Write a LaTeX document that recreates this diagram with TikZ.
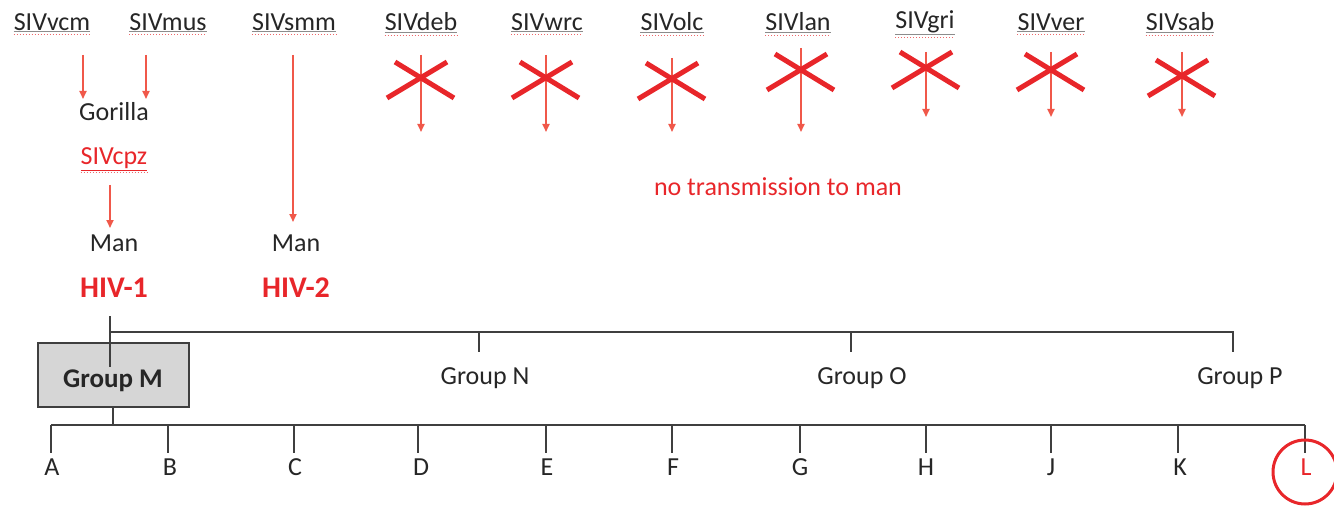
\documentclass[tikz,border=0pt]{standalone}
\usepackage{fontspec}
\setmainfont{Carlito}
\usetikzlibrary{arrows.meta}
\definecolor{xred}{HTML}{E8262A}
\definecolor{ared}{HTML}{F0584A}
\definecolor{tgray}{HTML}{3F3F3F}
\definecolor{boxgray}{HTML}{D6D6D6}
\definecolor{txt}{HTML}{262626}
\tikzset{
  siv/.style={font=\fontsize{26}{30}\selectfont, text=txt, inner sep=0pt},
  blk/.style={font=\fontsize{26}{30}\selectfont, text=txt, inner sep=0pt},
  redtxt/.style={font=\fontsize{26}{30}\selectfont, text=xred, inner sep=0pt},
  hiv/.style={font=\bfseries\fontsize{30}{34}\selectfont, text=xred, inner sep=0pt},
  leaf/.style={font=\fontsize{26}{30}\selectfont, text=txt, inner sep=0pt},
  arr/.style={draw=ared, line width=1.8pt, -{Triangle[length=8pt,width=7pt]}},
  xmk/.style={draw=xred, line width=5pt},
  tree/.style={draw=tgray, line width=2pt},
  squig/.style={draw=xred!70, line width=1pt, dotted},
  uline/.style={draw=black!45, line width=1pt},
}
\begin{document}
\begin{tikzpicture}[x=1pt,y=-1pt]
\useasboundingbox (0,0) rectangle (1334,508);
% top labels
\foreach \n/\x in {vcm/52,mus/168,smm/294,deb/421,wrc/547,olc/672,lan/798,gri/925,ver/1051,sab/1180}{
  \node[siv] (\n) at (\x,22) {SIV\n};
  \draw[uline] ([yshift=-1pt]\n.south west) -- ([yshift=-1pt]\n.south east);
  \draw[squig] ([yshift=-4pt]\n.south west) -- ([yshift=-4pt]\n.south east);
}
% HIV-1 branch
\node[blk] (gor) at (114,112) {Gorilla};
\node[redtxt] (cpz) at (114,158) {SIVcpz};
\draw[draw=xred, line width=1pt] ([yshift=-2pt]cpz.south west) -- ([yshift=-2pt]cpz.south east);
\draw[squig] ([yshift=-4pt]cpz.south west) -- ([yshift=-4pt]cpz.south east);
\node[blk] (man1) at (114,243) {Man};
\node[hiv] (hiv1) at (114,288) {HIV-1};
\node[blk] (man2) at (296,243) {Man};
\node[hiv] (hiv2) at (296,288) {HIV-2};
\coordinate (vcmA) at (83,55);
\coordinate (vcmB) at (83,99);
\coordinate (musA) at (146,55);
\coordinate (musB) at (146,99);
\coordinate (cpzA) at (110,185);
\coordinate (cpzB) at (110,228);
\coordinate (smmA) at (293,55);
\coordinate (smmB) at (293,222);
\draw[arr] (vcmA) -- (vcmB);
\draw[arr] (musA) -- (musB);
\draw[arr] (cpzA) -- (cpzB);
\draw[arr] (smmA) -- (smmB);
% crossed transmissions
\foreach \n/\x/\t/\b/\cy in {deb/421/55/132/80, wrc/546/55/132/80, olc/672/58/132/81, lan/801/48/132/72, gri/926/52/117/70, ver/1051/52/117/72, sab/1182/52/117/78}{
  \coordinate (\n T) at (\x,\t);
  \coordinate (\n B) at (\x,\b);
  \draw[arr] (\n T) -- (\n B);
  \draw[xmk] (\x-34,\cy+18) -- (\x+26,\cy-18);
  \draw[xmk] (\x-26,\cy-18) -- (\x+33,\cy+18);
}
\node[redtxt] (notr) at (778,187) {no transmission to man};
% groups
\node[draw=tgray, line width=2pt, fill=boxgray, minimum width=151pt, minimum height=64pt, inner sep=0pt] (gM) at (113,375) {};
\coordinate (r0) at (110,316);
\coordinate (r1) at (110,367);
\coordinate (rb) at (110,332);
\coordinate (dN) at (479,352);
\coordinate (dO) at (851,352);
\coordinate (dP) at (1233,352);
\draw[tree] (r0) -- (r1);
\draw[tree] (rb) -| (dP);
\draw[tree] (rb -| dN) -- (dN);
\draw[tree] (rb -| dO) -- (dO);
\node[font=\bfseries\fontsize{27}{30}\selectfont, text=txt, inner sep=0pt] (gMt) at (113,381) {Group M};
\node[blk] (gN) at (485,378) {Group N};
\node[blk] (gO) at (862,378) {Group O};
\node[blk] (gP) at (1240,378) {Group P};
% subtypes
\coordinate (mb) at (113,425);
\draw[tree] (gM.south) -- (mb);
\coordinate (barL) at (51,425);
\coordinate (barR) at (1305,425);
\draw[tree] (barL) -- (barR);
\foreach \n/\x/\lx in {A/51/52,B/168/170,C/294/295,D/418/421,E/546/547,F/672/673,G/800/800,H/926/926,J/1051/1051,K/1178/1180}{
  \coordinate (d\n) at (\x,453);
  \draw[tree] (barL -| d\n) -- (d\n);
  \node[leaf] (s\n) at (\lx,467) {\n};
}
\coordinate (dL) at (1305,453);
\draw[tree] (barR) -- (dL);
\node[font=\fontsize{26}{30}\selectfont, text=xred, inner sep=0pt] (sL) at (1306,467) {L};
\node[draw=xred, line width=3pt, circle, minimum size=64pt, inner sep=0pt] (cL) at (1305,472) {};
\end{tikzpicture}
\end{document}
